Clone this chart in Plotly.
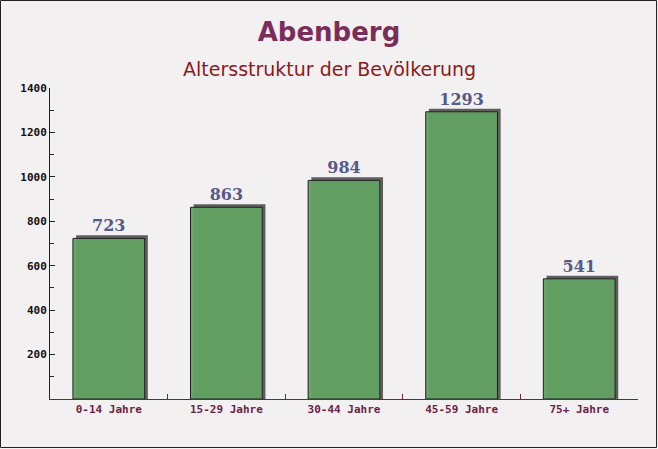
import plotly.graph_objects as go

categories = ["0-14 Jahre", "15-29 Jahre", "30-44 Jahre", "45-59 Jahre", "75+ Jahre"]
values = [723, 863, 984, 1293, 541]
y_ticks = [200, 400, 600, 800, 1000, 1200, 1400]

W, H = 658, 449
ML, MR, MT, MB = 50, 20, 88, 50
BAR_W = 0.61
SHADOW_DX = 0.027
SHADOW_DY = 14

fig = go.Figure()
fig.add_trace(go.Bar(
    x=categories, y=[v + SHADOW_DY for v in values],
    width=BAR_W, offset=-BAR_W / 2 + SHADOW_DX,
    marker=dict(color="#5e5e5e", line=dict(width=0)),
    hoverinfo="skip", showlegend=False,
))
fig.add_trace(go.Bar(
    x=categories, y=values,
    width=BAR_W, offset=-BAR_W / 2,
    marker=dict(color="rgba(98,160,98,0.95)", line=dict(color="#222222", width=1)),
    text=[str(v) for v in values], textposition="outside",
    textfont=dict(family="DejaVu Serif", size=16, color="#555a88", weight="bold"),
    cliponaxis=False, showlegend=False,
))

pw = W - ML - MR
ph = H - MT - MB
fig.add_shape(type="rect", xref="paper", yref="paper",
              x0=-ML / pw + 0.5 / pw, x1=1 + MR / pw - 1.5 / pw,
              y0=-MB / ph + 1.5 / ph, y1=1 + MT / ph - 0.5 / ph,
              line=dict(color="#222222", width=1), layer="above")

fig.update_layout(
    width=W, height=H,
    margin=dict(l=ML, r=MR, t=MT, b=MB),
    barmode="overlay",
    paper_bgcolor="#f3f0f2",
    plot_bgcolor="rgba(0,0,0,0)",
    title=dict(text="<b>Abenberg</b>", x=0.5, xanchor="center", y=1 - 32 / H, yanchor="middle",
               font=dict(family="DejaVu Sans", size=26, color="#7b2d5a")),
    annotations=[dict(text="Altersstruktur der Bevölkerung", xref="paper", yref="paper",
                      x=(W / 2 - ML) / pw, y=1 + 19 / ph, xanchor="center", yanchor="middle",
                      showarrow=False,
                      font=dict(family="DejaVu Sans", size=19, color="#8b1a1a"))],
    xaxis=dict(
        showline=True, linecolor="#6b2346", linewidth=1,
        ticks="inside", tickson="boundaries", ticklen=5, tickcolor="#6b2346",
        tickfont=dict(family="DejaVu Sans Mono", size=11, color="#6b2346", weight="bold"),
        showgrid=False,
    ),
    yaxis=dict(
        range=[0, 1400], tickvals=y_ticks,
        showline=True, linecolor="#222222", linewidth=1,
        ticks="inside", ticklen=5, tickcolor="#222222",
        tickfont=dict(family="DejaVu Sans Mono", size=11, color="#111111", weight="bold"),
        showgrid=False, zeroline=False,
        minor=dict(ticks="inside", dtick=100, ticklen=4, tickcolor="#222222"),
    ),
)

fig.write_html("out.html")
